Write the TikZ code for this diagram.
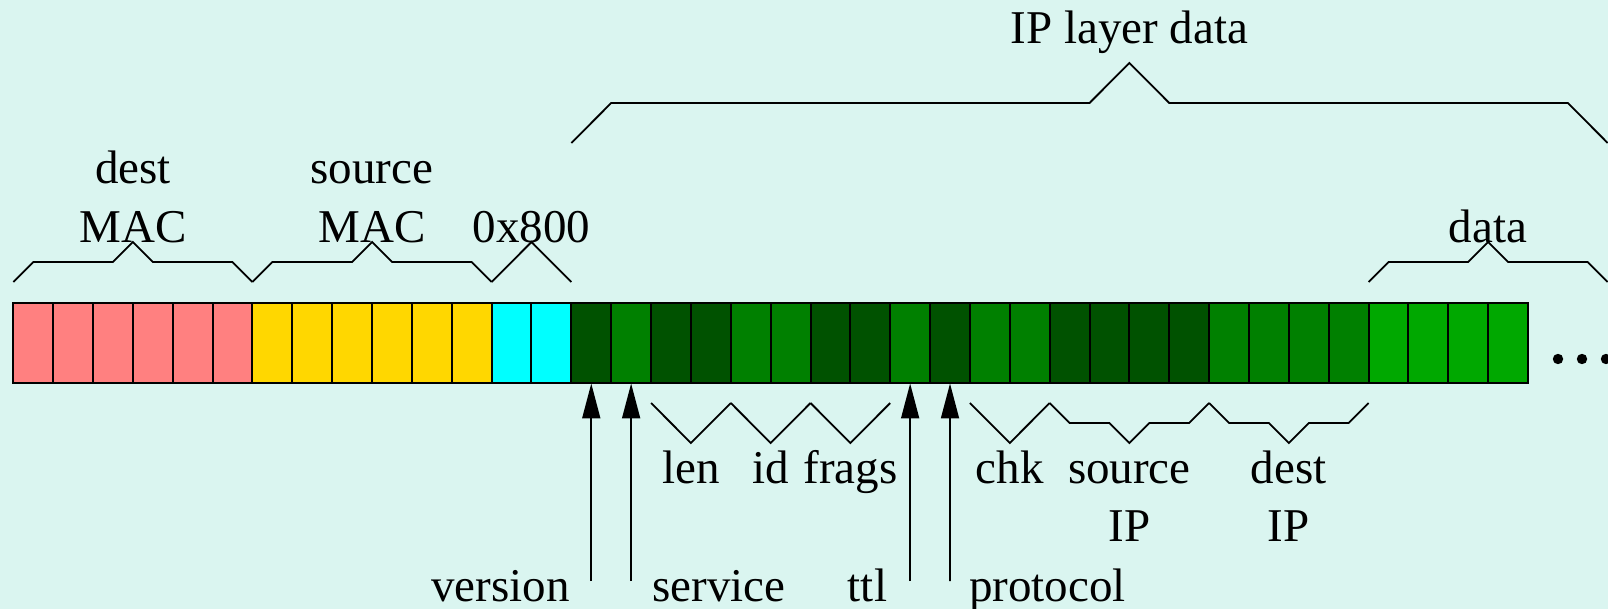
\documentclass[tikz,border=0pt]{standalone}
\usepackage{fontspec}
\setmainfont{Liberation Serif}
\usetikzlibrary{arrows.meta}
\definecolor{bg}{RGB}{218,245,240}
\definecolor{macpink}{RGB}{255,128,128}
\definecolor{macgold}{RGB}{255,215,0}
\definecolor{typecyan}{RGB}{0,255,255}
\definecolor{dkgreen}{RGB}{0,82,0}
\definecolor{mdgreen}{RGB}{0,128,0}
\definecolor{ltgreen}{RGB}{0,168,0}
\begin{document}
\begin{tikzpicture}[x=0.5pt,y=-0.5pt,
  cell/.style={draw=black, line width=1pt, minimum width=19.93pt, minimum height=40pt, inner sep=0pt, outer sep=0pt},
  brace/.style={draw=black, line width=0.9pt, line join=miter},
  lbl/.style={anchor=base, inner sep=0pt, font=\fontsize{23.5pt}{29pt}\selectfont},
  ptr/.style={draw=black, line width=0.9pt, -{Triangle[length=17.5pt,width=9pt]}}]
\fill[bg] (0,0) rectangle (1608,609);
\useasboundingbox (0,0) rectangle (1608,609);
% cells
\foreach \i/\c in {0/macpink,1/macpink,2/macpink,3/macpink,4/macpink,5/macpink,
  6/macgold,7/macgold,8/macgold,9/macgold,10/macgold,11/macgold,
  12/typecyan,13/typecyan,
  14/dkgreen,15/mdgreen,16/dkgreen,17/dkgreen,18/mdgreen,19/mdgreen,20/dkgreen,21/dkgreen,
  22/mdgreen,23/dkgreen,24/mdgreen,25/mdgreen,26/dkgreen,27/dkgreen,28/dkgreen,29/dkgreen,
  30/mdgreen,31/mdgreen,32/mdgreen,33/mdgreen,
  34/ltgreen,35/ltgreen,36/ltgreen,37/ltgreen}
  \node[cell, fill=\c] (c\i) at ({13.3+39.86*\i+19.93},343.5) {};
% dots
\fill (1558,359) circle[radius=2.6pt];
\fill (1582,359) circle[radius=2.6pt];
\fill (1606,359) circle[radius=2.6pt];
% top braces
\draw[brace] (13.3,282) -- (33.3,262) -- (112.9,262) -- (132.9,242) -- (152.9,262) -- (232.46,262) -- (252.46,282);
\draw[brace] (252.46,282) -- (272.46,262) -- (352.04,262) -- (372.04,242) -- (392.04,262) -- (471.62,262) -- (491.62,282);
\draw[brace] (491.62,282) -- (531.48,242) -- (571.34,282);
\draw[brace] (1368.54,282) -- (1388.54,262) -- (1468.12,262) -- (1488.12,242) -- (1508.12,262) -- (1587.7,262) -- (1607.7,282);
\draw[brace] (571.34,143) -- (611.2,103) -- (1089.52,103) -- (1129.38,63) -- (1169.24,103) -- (1567.84,103) -- (1607.7,143);
% bottom braces
\draw[brace] (651.06,403) -- (690.92,443) -- (730.78,403);
\draw[brace] (730.78,403) -- (770.64,443) -- (810.5,403);
\draw[brace] (810.5,403) -- (850.36,443) -- (890.22,403);
\draw[brace] (969.94,403) -- (1009.8,443) -- (1049.66,403);
\draw[brace] (1049.66,403) -- (1069.66,423) -- (1109.38,423) -- (1129.38,443) -- (1149.38,423) -- (1189.1,423) -- (1209.1,403);
\draw[brace] (1209.1,403) -- (1229.1,423) -- (1268.82,423) -- (1288.82,443) -- (1308.82,423) -- (1348.54,423) -- (1368.54,403);
% arrows
\coordinate (pv) at (591.27,581);
\coordinate (ps) at (631.13,581);
\coordinate (pt) at (910.15,581);
\coordinate (pp) at (950.01,581);
\draw[ptr] (pv) -- (c14.south);
\draw[ptr] (ps) -- (c15.south);
\draw[ptr] (pt) -- (c22.south);
\draw[ptr] (pp) -- (c23.south);
% labels
\node[lbl] (ldestA) at (132.9,184) {dest};
\node[lbl] (ldestB) at (132.9,243) {MAC};
\node[lbl] (lsrcA) at (372.04,184) {source};
\node[lbl] (lsrcB) at (372.04,243) {MAC};
\node[lbl] (ltype) at (531.48,243) {0x800};
\node[lbl] (lip) at (1129.38,44) {IP layer data};
\node[lbl] (ldata) at (1488.12,243) {data};
\node[lbl] (llen) at (690.92,483) {len};
\node[lbl] (lid) at (770.64,483) {id};
\node[lbl] (lfrags) at (850.36,483) {frags};
\node[lbl] (lchk) at (1009.8,483) {chk};
\node[lbl] (lsipA) at (1129.38,483) {source};
\node[lbl] (lsipB) at (1129.38,541.5) {IP};
\node[lbl] (ldipA) at (1288.82,483) {dest};
\node[lbl] (ldipB) at (1288.82,541.5) {IP};
\node[lbl, anchor=base east] (lversion) at (570,601.5) {version};
\node[lbl, anchor=base west] (lservice) at (652,601.5) {service};
\node[lbl, anchor=base east] (lttl) at (887.5,601.5) {ttl};
\node[lbl, anchor=base west] (lprotocol) at (968.7,601.5) {protocol};
\end{tikzpicture}
\end{document}
